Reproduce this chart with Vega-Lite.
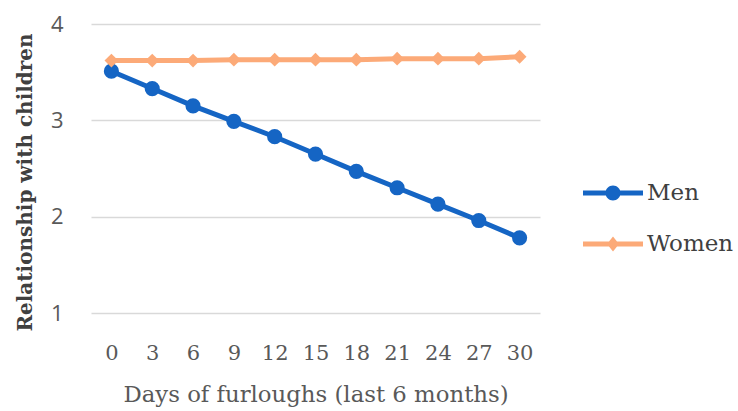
{
  "$schema": "https://vega.github.io/schema/vega-lite/v6.json",
  "width": 449,
  "height": 289,
  "autosize": {"type": "none"},
  "padding": {"left": 91, "top": 24, "right": 198, "bottom": 98},
  "background": "white",
  "config": {"view": {"stroke": null}},
  "data": {"values": [
    {"days": 0, "group": "Men", "value": 3.51},
    {"days": 3, "group": "Men", "value": 3.33},
    {"days": 6, "group": "Men", "value": 3.15},
    {"days": 9, "group": "Men", "value": 2.99},
    {"days": 12, "group": "Men", "value": 2.83},
    {"days": 15, "group": "Men", "value": 2.65},
    {"days": 18, "group": "Men", "value": 2.47},
    {"days": 21, "group": "Men", "value": 2.30},
    {"days": 24, "group": "Men", "value": 2.13},
    {"days": 27, "group": "Men", "value": 1.96},
    {"days": 30, "group": "Men", "value": 1.78},
    {"days": 0, "group": "Women", "value": 3.62},
    {"days": 3, "group": "Women", "value": 3.62},
    {"days": 6, "group": "Women", "value": 3.62},
    {"days": 9, "group": "Women", "value": 3.63},
    {"days": 12, "group": "Women", "value": 3.63},
    {"days": 15, "group": "Women", "value": 3.63},
    {"days": 18, "group": "Women", "value": 3.63},
    {"days": 21, "group": "Women", "value": 3.64},
    {"days": 24, "group": "Women", "value": 3.64},
    {"days": 27, "group": "Women", "value": 3.64},
    {"days": 30, "group": "Women", "value": 3.66}
  ]},
  "encoding": {
    "x": {
      "field": "days", "type": "ordinal",
      "scale": {"type": "point", "padding": 0.5},
      "axis": {
        "title": "Days of furloughs (last 6 months)",
        "labelAngle": 0, "labelFont": "DejaVu Serif", "labelFontSize": 21, "labelColor": "#595959",
        "labelPadding": 29, "ticks": false, "domain": false, "grid": false,
        "titleFont": "DejaVu Serif", "titleFontSize": 22.8, "titleFontWeight": "normal", "titleColor": "#595959",
        "titlePadding": 20
      }
    },
    "y": {
      "field": "value", "type": "quantitative",
      "scale": {"domain": [1, 4]},
      "axis": {
        "title": "Relationship with children",
        "values": [1, 2, 3, 4], "format": "d",
        "labelFont": "Open Sans", "labelFontSize": 22, "labelColor": "#595959", "labelPadding": 28,
        "ticks": false, "domain": false, "gridColor": "#d9d9d9", "gridWidth": 1.5,
        "titleFont": "DejaVu Serif", "titleFontSize": 20, "titleFontWeight": "bold", "titleColor": "#404040",
        "titleX": -66, "titleY": 158, "titleAlign": "center", "titleBaseline": "middle", "titleAngle": -90
      }
    },
    "color": {
      "field": "group", "type": "nominal",
      "scale": {"domain": ["Men", "Women"], "range": ["#1565C4", "#FCAA78"]},
      "legend": {
        "title": null, "orient": "none", "legendX": 492, "legendY": 139,
        "labelFont": "DejaVu Serif", "labelFontSize": 23, "labelColor": "#404040",
        "symbolSize": 3600, "symbolStrokeWidth": 0, "rowPadding": 9, "labelOffset": 4,
        "encode": {
          "symbols": {
            "update": {
              "shape": {"signal": "datum.value === 'Men' ? 'M-1,-0.08H1V0.08H-1Z M0.25,0 A0.25,0.25 0 1,1 -0.25,0 A0.25,0.25 0 1,1 0.25,0Z' : 'M-1,-0.08H1V0.08H-1Z M0,-0.25 L0.2,0 L0,0.25 L-0.2,0Z'"},
              "size": {"value": 3600},
              "fill": {"signal": "datum.value === 'Men' ? '#1565C4' : '#FCAA78'"},
              "fillOpacity": {"value": 1},
              "opacity": {"value": 1},
              "strokeWidth": {"value": 0}
            }
          }
        }
      }
    }
  },
  "layer": [
    {"mark": {"type": "line", "strokeWidth": 5}},
    {
      "transform": [{"filter": "datum.group === 'Men'"}],
      "mark": {"type": "point", "filled": true, "opacity": 1, "shape": "circle", "size": 230}
    },
    {
      "transform": [{"filter": "datum.group === 'Women'"}],
      "mark": {"type": "point", "filled": true, "opacity": 1, "shape": "diamond", "size": 190}
    }
  ]
}
